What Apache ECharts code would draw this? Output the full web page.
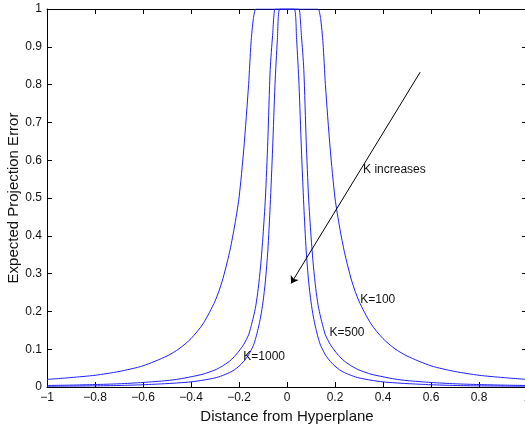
<!DOCTYPE html>
<html>
<head>
<meta charset="utf-8">
<script src="https://cdn.jsdelivr.net/npm/echarts@6/dist/echarts.min.js"></script>
<style>
  html, body { margin: 0; padding: 0; background: #fff; }
  #chart { width: 525px; height: 428px; }
</style>
</head>
<body>
<div id="chart"></div>
<script>
// distance from hyperplane (sample positions)
const distance = [-1, -0.9, -0.8, -0.7, -0.6, -0.5, -0.45, -0.4, -0.35, -0.3, -0.27, -0.24, -0.22, -0.2, -0.18, -0.16, -0.15, -0.14, -0.13, -0.12, -0.11, -0.1, -0.09, -0.08, -0.07, -0.06, -0.05, -0.04, -0.03,
  0,
  0.03, 0.04, 0.05, 0.06, 0.07, 0.08, 0.09, 0.1, 0.11, 0.12, 0.13, 0.14, 0.15, 0.16, 0.18, 0.2, 0.22, 0.24, 0.27, 0.3, 0.35, 0.4, 0.45, 0.5, 0.6, 0.7, 0.8, 0.9, 1]

// expected projection error
const errK100 = [0.020, 0.025, 0.031, 0.041, 0.056, 0.082, 0.101, 0.128, 0.167, 0.227, 0.28, 0.355, 0.42, 0.50, 0.63, 0.80, 0.91, 0.975, 1, 1, 1, 1, 1, 1, 1, 1, 1, 1, 1,
  1,
  1, 1, 1, 1, 1, 1, 1, 1, 1, 1, 1, 0.975, 0.91, 0.80, 0.63, 0.50, 0.42, 0.355, 0.28, 0.227, 0.167, 0.128, 0.101, 0.082, 0.056, 0.041, 0.031, 0.025, 0.020]
const errK500 = [0.004, 0.005, 0.0065, 0.0085, 0.012, 0.017, 0.021, 0.027, 0.034, 0.045, 0.055, 0.068, 0.08, 0.095, 0.113, 0.138, 0.16, 0.185, 0.215, 0.26, 0.32, 0.40, 0.50, 0.65, 0.84, 0.93, 1, 1, 1,
  1,
  1, 1, 1, 0.93, 0.84, 0.65, 0.50, 0.40, 0.32, 0.26, 0.215, 0.185, 0.16, 0.138, 0.113, 0.095, 0.08, 0.068, 0.055, 0.045, 0.034, 0.027, 0.021, 0.017, 0.012, 0.0085, 0.0065, 0.005, 0.004]
const errK1000 = [0.002, 0.0025, 0.003, 0.004, 0.006, 0.009, 0.011, 0.0135, 0.018, 0.024, 0.030, 0.038, 0.045, 0.055, 0.068, 0.085, 0.097, 0.11, 0.13, 0.155, 0.185, 0.225, 0.28, 0.36, 0.48, 0.63, 0.80, 0.92, 1,
  1,
  1, 0.92, 0.80, 0.63, 0.48, 0.36, 0.28, 0.225, 0.185, 0.155, 0.13, 0.11, 0.097, 0.085, 0.068, 0.055, 0.045, 0.038, 0.030, 0.024, 0.018, 0.0135, 0.011, 0.009, 0.006, 0.004, 0.003, 0.0025, 0.002]

// text labels [x, y, text]
const curveLabels = [
  [0.305, 0.231, 'K=100'],
  [0.177, 0.144, 'K=500'],
  [-0.182, 0.080, 'K=1000'],
  [0.317, 0.574, 'K increases']
]
// arrow from -> to
const arrowFrom = [0.555, 0.833]
const arrowTo = [0.017, 0.274]

const font = 'Liberation Sans, Arial, Helvetica, sans-serif'
const lineColor = '#1f1fff'

const toPairs = ys => distance.map((x, i) => [x, ys[i]])
const fmtTick = v => (v < 0 ? '\u2212' + String(-v) : String(v))

const chart = echarts.init(document.getElementById('chart'), null, { renderer: 'canvas' })

const curve = (name, ys) => ({
  name: name,
  type: 'line',
  data: toPairs(ys),
  showSymbol: false,
  symbol: 'none',
  smooth: 0.25,
  lineStyle: { color: lineColor, width: 1 },
  itemStyle: { color: lineColor },
  z: 3
})

const series = [
  curve('K=100', errK100),
  curve('K=500', errK500),
  curve('K=1000', errK1000)
]

// annotations hang on the first curve
series[0].markLine = {
  silent: true,
  symbol: ['none', 'arrow'],
  symbolSize: 7,
  lineStyle: { color: '#000', width: 1, type: 'solid' },
  label: { show: false },
  data: [[{ coord: arrowFrom }, { coord: arrowTo }]],
  animation: false
}
series[0].markPoint = {
  silent: true,
  symbol: 'circle',
  symbolSize: 0,
  label: {
    show: true,
    position: 'right',
    distance: 0,
    color: '#111',
    fontSize: 12,
    fontFamily: font,
    formatter: p => p.name
  },
  data: curveLabels.map(l => ({ name: l[2], coord: [l[0], l[1]] })),
  animation: false
}

const axisLine = { show: true, onZero: false, lineStyle: { color: '#000', width: 1 } }
const inTick = { show: true, inside: true, length: 5, lineStyle: { color: '#000' } }

chart.setOption({
  animation: false,
  backgroundColor: '#fff',
  grid: { left: 47, right: -2, top: 9, bottom: 41, containLabel: false, outerBoundsMode: 'none' },
  xAxis: [{
    type: 'value',
    min: -1,
    max: 1,
    interval: 0.2,
    position: 'bottom',
    name: 'Distance from Hyperplane',
    nameLocation: 'middle',
    nameGap: 22,
    nameTextStyle: { color: '#111', fontSize: 15, fontFamily: font },
    axisLine: axisLine,
    axisTick: inTick,
    axisLabel: { color: '#111', fontSize: 12, fontFamily: font, margin: 5, formatter: fmtTick },
    splitLine: { show: false }
  }, {
    type: 'value',
    min: -1,
    max: 1,
    interval: 0.2,
    position: 'top',
    axisLine: axisLine,
    axisTick: inTick,
    axisLabel: { show: false },
    splitLine: { show: false }
  }],
  yAxis: [{
    type: 'value',
    min: 0,
    max: 1,
    interval: 0.1,
    position: 'left',
    name: 'Expected Projection Error',
    nameLocation: 'middle',
    nameGap: 26,
    nameMoveOverlap: false,
    nameTextStyle: { color: '#111', fontSize: 15, fontFamily: font },
    axisLine: axisLine,
    axisTick: inTick,
    axisLabel: { color: '#111', fontSize: 12, fontFamily: font, margin: 5 },
    splitLine: { show: false }
  }, {
    type: 'value',
    min: 0,
    max: 1,
    interval: 0.1,
    position: 'right',
    axisLine: axisLine,
    axisTick: inTick,
    axisLabel: { show: false },
    splitLine: { show: false }
  }],
  series: series
})
</script>
</body>
</html>
